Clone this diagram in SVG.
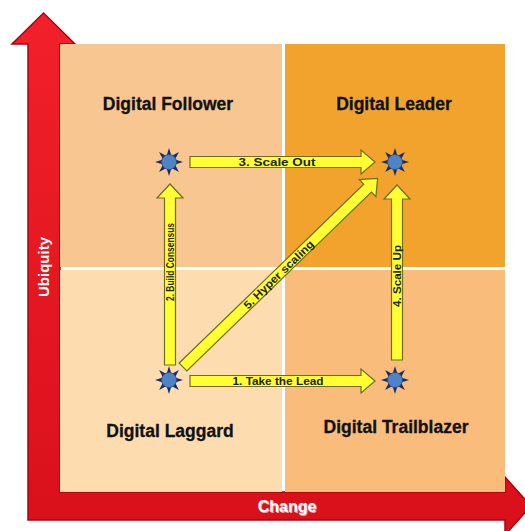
<svg xmlns="http://www.w3.org/2000/svg" width="525" height="531" viewBox="0 0 525 531">
<style>
.q{stroke:none}
.lbl{font-family:"Liberation Sans",Arial,sans-serif;font-weight:bold;font-size:17.5px;fill:#111;text-anchor:middle;stroke:#111;stroke-width:0.3}
.arr{fill:#FFFF33;stroke:#6E6E1E;stroke-width:1.2;stroke-linejoin:miter}
.at{font-family:"Liberation Sans",Arial,sans-serif;font-weight:bold;font-size:11px;fill:#222;text-anchor:middle}
.ax{font-family:"Liberation Sans",Arial,sans-serif;font-weight:bold;fill:#fff;text-anchor:middle}
</style>
<defs>
<linearGradient id="red" x1="0" y1="0" x2="0" y2="1">
<stop offset="0" stop-color="#F2202A"/>
<stop offset="1" stop-color="#D8101A"/>
</linearGradient>
<g id="star">
<polygon points="14,0 6,2.5 9.9,9.9 2.5,6 0,14 -2.5,6 -9.9,9.9 -6,2.5 -14,0 -6,-2.5 -9.9,-9.9 -2.5,-6 0,-14 2.5,-6 9.9,-9.9 6,-2.5" fill="#1C2A66"/>
<circle r="7.5" fill="#4F84C4" stroke="#2C4E8A" stroke-width="0.8"/>
</g>
</defs>
<rect width="525" height="531" fill="#fff"/>
<g id="axes">
<path d="M28,520 V44 H12 L43.5,13 L75,44 H60 V492 H505 V477 L531,506 L505,535 V520 Z" fill="url(#red)" stroke="#B00010" stroke-width="1.5"/>
<text class="ax" font-size="15" transform="translate(49,267) rotate(-90)">Ubiquity</text>
<text class="ax" font-size="16" x="288" y="513" fill="#5a0000" opacity="0.6">Change</text>
<text class="ax" font-size="16" x="287" y="512">Change</text>
</g>
<g id="q-follower"><rect class="q" x="60" y="44" width="222" height="223" fill="#F8C690"/><text class="lbl" x="168" y="110">Digital Follower</text></g>
<g id="q-leader"><rect class="q" x="285" y="44" width="220" height="223" fill="#F2A32E"/><text class="lbl" x="394" y="110">Digital Leader</text></g>
<g id="q-laggard"><rect class="q" x="60" y="270" width="222" height="222" fill="#FDDDB0"/><text class="lbl" x="170" y="437">Digital Laggard</text></g>
<g id="q-trailblazer"><rect class="q" x="285" y="270" width="220" height="222" fill="#F9BC7A"/><text class="lbl" x="396" y="433">Digital Trailblazer</text></g>
<g id="connectors">
<g id="a3"><path class="arr" d="M190,156.5 H361 V150 L375,162 L361,174 V167.5 H190 Z"/><text class="at" x="277" y="166" textLength="77" lengthAdjust="spacingAndGlyphs">3. Scale Out</text></g>
<g id="a1"><path class="arr" d="M190,375.5 H361 V369 L375,381 L361,393 V386.5 H190 Z"/><text class="at" x="278" y="385" textLength="91" lengthAdjust="spacingAndGlyphs">1. Take the Lead</text></g>
<g id="a2"><path class="arr" d="M164.5,365 V198 H157 L170,184 L183,198 H175.5 V365 Z"/><text class="at" transform="translate(174,262) rotate(-90)" textLength="78" lengthAdjust="spacingAndGlyphs">2. Build Consensus</text></g>
<g id="a4"><path class="arr" d="M391.5,360 V199 H384 L397,185 L410,199 H402.5 V360 Z"/><text class="at" transform="translate(401,276) rotate(-90)" textLength="62" lengthAdjust="spacingAndGlyphs">4. Scale Up</text></g>
<g id="a5" transform="translate(183,367) rotate(-44.1)"><path class="arr" d="M0,-5.5 H257 V-12 L271,0 L257,12 V5.5 H0 Z"/><text class="at" x="133" y="4" textLength="93" lengthAdjust="spacingAndGlyphs">5. Hyper scaling</text></g>
</g>
<g id="star-ll"><use href="#star" x="169" y="380"/></g>
<g id="star-ul"><use href="#star" x="169" y="162"/></g>
<g id="star-ur"><use href="#star" x="395" y="162"/></g>
<g id="star-lr"><use href="#star" x="395" y="380"/></g>
</svg>
